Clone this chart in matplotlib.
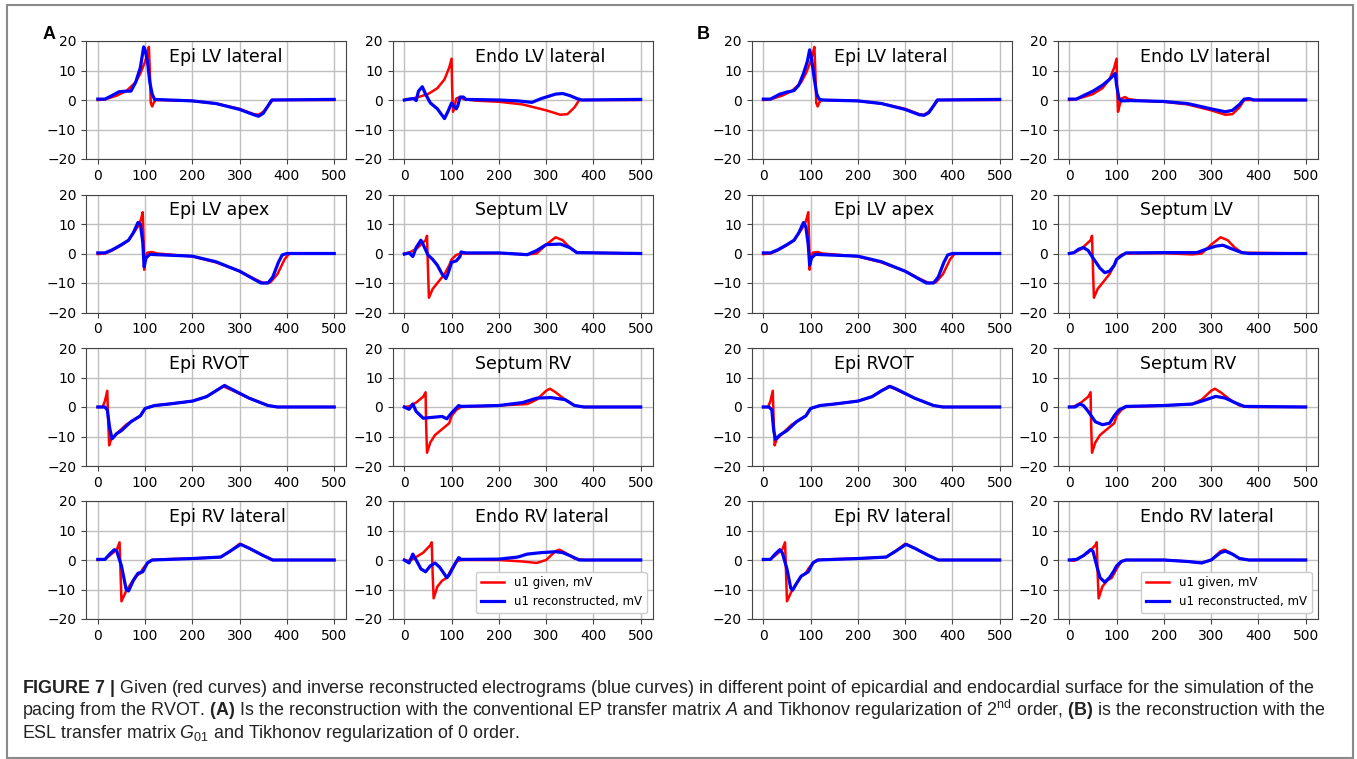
import matplotlib
matplotlib.use("Agg")
import matplotlib.pyplot as plt
from matplotlib.patches import Rectangle

# ------------------ Data (time ms, potential mV) ------------------
# given curves are the same in A and B
epi_lv_lat_given = [(0, 0), (15, 0.2), (40, 1.5), (60, 3), (80, 6), (90, 9), (100, 13), (105, 16),
                    (108, 18), (110, 10), (112, -1), (115, -2.2), (118, -1), (122, 0), (200, -0.3),
                    (250, -1.2), (300, -3), (330, -4.8), (340, -5), (350, -4), (360, -2), (370, 0), (500, 0)]
endo_lv_lat_given = [(0, 0), (10, 0.2), (30, 1), (50, 2), (70, 4), (85, 7), (95, 11), (100, 14), (101, 5),
                     (103, -4), (106, -2), (110, 0.5), (118, 1), (125, 0.3), (150, -0.2), (200, -0.6),
                     (250, -1.5), (300, -3.5), (330, -5), (345, -4.8), (360, -2.5), (370, 0), (500, 0)]
epi_lv_apex_given = [(0, -0.2), (15, 0), (30, 1), (50, 2.8), (65, 4.5), (80, 8), (88, 10), (92, 12),
                     (95, 14), (97, 4), (98, -5.5), (100, -1), (105, 0.3), (115, 0.5), (125, 0), (200, -1),
                     (250, -3), (300, -6), (330, -8.5), (350, -10), (365, -9.8), (380, -7), (395, -2),
                     (405, 0), (500, 0)]
septum_lv_given = [(0, 0), (10, 0.3), (25, 1.5), (35, 3), (45, 4.5), (48, 6), (50, -5), (52, -15), (60, -12),
                   (70, -10), (85, -7), (95, -4), (100, -2), (110, -0.5), (120, 0), (200, 0.1), (260, -0.3),
                   (280, 0), (300, 3), (320, 5.5), (335, 4.5), (350, 2), (365, 0.3), (500, 0)]
epi_rvot_given = [(0, 0), (10, 0), (15, 2), (20, 5.5), (22, -5), (24, -13), (28, -11), (40, -9), (60, -6),
                  (80, -4), (90, -3), (100, -0.5), (120, 0.5), (150, 1), (200, 2), (230, 3.5), (250, 5.5),
                  (265, 7), (280, 6), (320, 3), (360, 0.5), (380, 0), (500, 0)]
septum_rv_given = [(0, 0), (10, 0.2), (25, 1.5), (40, 3.5), (45, 5), (46, -5), (48, -15.5), (55, -12),
                   (65, -9.5), (80, -7.5), (95, -5.5), (100, -3), (110, -1), (120, 0), (200, 0.5), (260, 1),
                   (280, 2.5), (300, 5.5), (308, 6.2), (320, 5), (340, 2.5), (360, 0.5), (380, 0), (500, 0)]
epi_rv_lat_given = [(0, 0), (15, 0.2), (25, 1.5), (40, 3.5), (46, 6), (48, -4), (50, -14), (60, -10.5),
                    (70, -8), (80, -5.5), (90, -4.5), (95, -3), (105, -1), (115, 0), (150, 0.3), (200, 0.5),
                    (260, 1), (280, 3), (300, 5.5), (320, 4), (350, 1.5), (370, 0), (500, 0)]
endo_rv_lat_given = [(0, 0), (10, -0.3), (20, 0.5), (40, 2.5), (55, 5), (58, 6), (60, -5), (62, -13),
                     (70, -9), (80, -7), (90, -6), (100, -3), (110, -0.5), (120, 0), (200, 0), (250, -0.5),
                     (280, -1), (300, 0), (320, 3), (328, 3.5), (340, 2.5), (360, 0.5), (380, 0), (500, 0)]

# A: EP transfer matrix, Tikhonov 2nd order
a_epi_lv_lat = [(0, 0.3), (15, 0.3), (30, 1.5), (45, 2.8), (60, 3), (70, 3), (80, 6), (90, 11), (97, 18),
                (100, 17), (105, 13), (110, 6), (115, 2), (120, 0.2), (200, -0.3), (250, -1.2), (300, -3.2),
                (330, -5), (340, -5.5), (350, -4.5), (360, -2), (368, 0), (500, 0.2)]
a_endo_lv_lat = [(0, 0), (10, 0.3), (20, 0.5), (25, -0.2), (30, 3), (38, 4.5), (45, 2), (55, -1), (70, -3),
                 (85, -6.3), (92, -4), (100, -1), (104, -2), (110, -3), (113, -2), (118, 1), (125, 1),
                 (130, 0.2), (200, 0), (240, -0.3), (270, -0.8), (290, 0.5), (320, 2), (335, 2.2),
                 (350, 1.5), (365, 0.5), (375, 0), (500, 0.2)]
a_epi_lv_apex = [(0, 0.2), (15, 0.2), (30, 1.2), (50, 3), (65, 4.5), (75, 7), (85, 10.5), (90, 10), (95, 4),
                 (98, -4.5), (102, -1.5), (110, -0.3), (200, -0.9), (250, -2.8), (300, -6), (330, -8.7),
                 (345, -10), (360, -10), (370, -8), (382, -3), (390, -0.5), (400, 0), (500, 0)]
a_septum_lv = [(0, -0.2), (10, 0.2), (18, -1), (25, 2), (35, 4.5), (40, 3), (50, -0.5), (60, -2), (70, -4),
               (80, -7), (88, -8.5), (92, -7), (100, -3), (110, -2.5), (118, -1), (120, 0.5), (130, 0.2),
               (200, 0.2), (260, -0.4), (280, 1), (300, 3), (330, 3.2), (350, 2), (365, 0.3), (500, 0)]
a_epi_rvot = [(0, 0), (15, 0), (20, -1), (25, -7), (30, -10.8), (40, -9), (50, -8), (70, -5), (90, -3),
              (100, -0.5), (120, 0.5), (150, 1), (200, 2), (230, 3.5), (250, 5.5), (268, 7.3), (280, 6.3),
              (320, 3), (360, 0.5), (380, 0), (500, 0)]
a_septum_rv = [(0, 0), (10, -0.8), (18, 1), (25, -1.5), (40, -3.8), (60, -3.5), (80, -3.2), (90, -4),
               (100, -2), (115, 0.5), (120, 0.2), (200, 0.5), (250, 1.5), (280, 3), (310, 3.2), (340, 2.5),
               (360, 0.5), (380, 0), (500, 0)]
a_epi_rv_lat = [(0, 0.2), (15, 0.2), (25, 2), (35, 3.5), (40, 3), (50, -2), (60, -10), (65, -10.5),
                (75, -7), (85, -4.5), (95, -4), (105, -1), (115, 0), (200, 0.5), (260, 1), (280, 3),
                (302, 5.3), (320, 4), (350, 1.5), (370, 0), (500, 0)]
a_endo_rv_lat = [(0, 0), (10, -1), (18, 2), (25, 0), (35, -3), (45, -4), (55, -2), (65, -1), (75, -2.5),
                 (90, -6), (95, -5), (105, -2), (115, 0.8), (120, 0.2), (200, 0.3), (240, 1), (260, 2),
                 (290, 2.5), (320, 2.8), (335, 2.5), (350, 1.5), (370, 0), (500, 0)]

# B: ESL transfer matrix, Tikhonov 0 order
b_epi_lv_lat = [(0, 0.3), (15, 0.3), (35, 2), (50, 2.7), (65, 3.2), (75, 5), (85, 9), (93, 13), (98, 17),
                (102, 14), (108, 7), (113, 2), (118, 0.3), (125, 0), (200, -0.3), (250, -1.2), (300, -3.2),
                (330, -5), (340, -5.2), (350, -4.3), (360, -2), (368, 0), (500, 0.2)]
b_endo_lv_lat = [(0, 0.3), (15, 0.3), (30, 1.5), (50, 3), (70, 5), (85, 7), (97, 9), (100, 5), (105, 0.5),
                 (110, -0.3), (130, -0.2), (200, -0.5), (250, -1.2), (300, -3), (330, -4), (345, -3.5),
                 (360, -1.5), (370, 0.3), (380, 0.5), (390, 0), (500, 0)]
b_epi_lv_apex = [(0, 0.2), (15, 0.2), (30, 1.2), (50, 3), (65, 4.5), (75, 7), (85, 10.5), (90, 9), (95, 3),
                 (98, -4), (102, -1.5), (110, -0.3), (200, -0.9), (250, -2.8), (300, -6), (330, -8.7),
                 (345, -10), (360, -10), (370, -8), (382, -3), (390, -0.5), (400, 0), (500, 0)]
b_septum_lv = [(0, 0), (10, 0.3), (20, 1.5), (30, 2), (40, 1), (50, -1.5), (65, -5), (75, -6.5), (85, -6),
               (95, -4), (100, -2), (110, -0.8), (120, 0.2), (200, 0.3), (270, 0.3), (290, 1.5), (310, 2.5),
               (325, 2.8), (345, 1.5), (365, 0.3), (380, 0), (500, 0)]
b_epi_rvot = [(0, 0), (12, 0), (18, -1), (22, -8), (26, -11), (35, -9.5), (50, -8), (70, -5), (90, -3),
              (100, -0.5), (120, 0.5), (150, 1), (200, 2), (230, 3.5), (250, 5.5), (268, 7), (280, 6.2),
              (320, 3), (360, 0.5), (380, 0), (500, 0)]
b_septum_rv = [(0, 0), (12, 0), (22, 1), (30, 0.5), (40, -1.5), (55, -5), (70, -6), (85, -5.5), (95, -3),
               (105, -1), (120, 0.2), (200, 0.5), (260, 1), (280, 2), (310, 3.6), (330, 3), (350, 1.5),
               (370, 0.2), (500, 0)]
b_epi_rv_lat = [(0, 0.2), (15, 0.2), (25, 2), (35, 3.5), (40, 2.5), (50, -3), (58, -9.5), (62, -10.2),
                (70, -8), (80, -5.5), (90, -4.5), (95, -4), (105, -1), (115, 0), (200, 0.5), (260, 1),
                (280, 3), (302, 5.3), (320, 4), (350, 1.5), (370, 0), (500, 0)]
b_endo_rv_lat = [(0, 0), (15, 0.2), (30, 1.5), (45, 3.5), (50, 3), (58, -2), (65, -6), (75, -7.5), (85, -6),
                 (95, -3.5), (100, -2), (110, -0.5), (120, 0), (200, 0), (250, -0.5), (280, -1), (300, 0),
                 (320, 2.5), (330, 3), (345, 2), (360, 0.5), (380, 0), (500, 0)]

titles = ["Epi LV lateral", "Endo LV lateral", "Epi LV apex", "Septum LV",
          "Epi RVOT", "Septum RV", "Epi RV lateral", "Endo RV lateral"]
given = [epi_lv_lat_given, endo_lv_lat_given, epi_lv_apex_given, septum_lv_given,
         epi_rvot_given, septum_rv_given, epi_rv_lat_given, endo_rv_lat_given]
recon_a = [a_epi_lv_lat, a_endo_lv_lat, a_epi_lv_apex, a_septum_lv,
           a_epi_rvot, a_septum_rv, a_epi_rv_lat, a_endo_rv_lat]
recon_b = [b_epi_lv_lat, b_endo_lv_lat, b_epi_lv_apex, b_septum_lv,
           b_epi_rvot, b_septum_rv, b_epi_rv_lat, b_endo_rv_lat]

# ------------------ Figure ------------------
W, H = 1357, 759
fig = plt.figure(figsize=(W / 100, H / 100), dpi=100)
fig.patches.append(Rectangle((7 / W, 1 / H), 1346 / W, 753 / H, transform=fig.transFigure,
                             fill=False, edgecolor="#8a8a8a", lw=1.5))

tops = [41, 194.5, 348, 501]
lefts = {"A": [86, 392.5], "B": [751.5, 1057.5]}
aw, ah = 260, 118


def draw_panel(left, top, title, g, r, legend=False):
    ax = fig.add_axes([left / W, 1 - (top + ah) / H, aw / W, ah / H])
    ax.plot([p[0] for p in g], [p[1] for p in g], color="red", lw=1.8, label="u1 given, mV")
    ax.plot([p[0] for p in r], [p[1] for p in r], color="blue", lw=2.3, label="u1 reconstructed, mV")
    ax.set_ylim(-20, 20)
    ax.set_xlim(-25, 525)
    ax.set_xticks([0, 100, 200, 300, 400, 500])
    ax.set_yticks([-20, -10, 0, 10, 20])
    ax.grid(color="#c0c0c0", lw=1)
    ax.tick_params(labelsize=10, color="#444")
    for s in ax.spines.values():
        s.set_color("#444")
    ax.text(150, 13, title, fontsize=12.5, ha="left", va="baseline")
    if legend:
        ax.legend(loc="lower right", fontsize=8.5, framealpha=1, edgecolor="#ccc")
    return ax


for panel, rec in (("A", recon_a), ("B", recon_b)):
    for i in range(8):
        row, col = divmod(i, 2)
        draw_panel(lefts[panel][col], tops[row], titles[i], given[i], rec[i], legend=(i == 7))

fig.text(43 / W, 1 - 39 / H, "A", fontsize=13, fontweight="bold", family="Liberation Sans")
fig.text(697 / W, 1 - 39 / H, "B", fontsize=13, fontweight="bold", family="Liberation Sans")

# ------------------ Caption ------------------
plt.rcParams["mathtext.fontset"] = "custom"
plt.rcParams["mathtext.rm"] = "Liberation Sans"
plt.rcParams["mathtext.it"] = "Liberation Sans:italic"
plt.rcParams["mathtext.bf"] = "Liberation Sans:bold"

cap = [
    r"$\mathbf{FIGURE\ 7\ |}$ Given (red curves) and inverse reconstructed electrograms (blue curves) in different point of epicardial and endocardial surface for the simulation of the",
    r"pacing from the RVOT. $\mathbf{(A)}$ Is the reconstruction with the conventional EP transfer matrix $\mathit{A}$ and Tikhonov regularization of 2$^{\mathrm{nd}}$ order, $\mathbf{(B)}$ is the reconstruction with the",
    r"ESL transfer matrix $\mathit{G}_{01}$ and Tikhonov regularization of 0 order.",
]
for k, line in enumerate(cap):
    fig.text(22 / W, 1 - (693 + 22.5 * k) / H, line, fontsize=12.9, family="Liberation Sans",
             color="#222", va="baseline")

fig.savefig("out.png", dpi=100)
